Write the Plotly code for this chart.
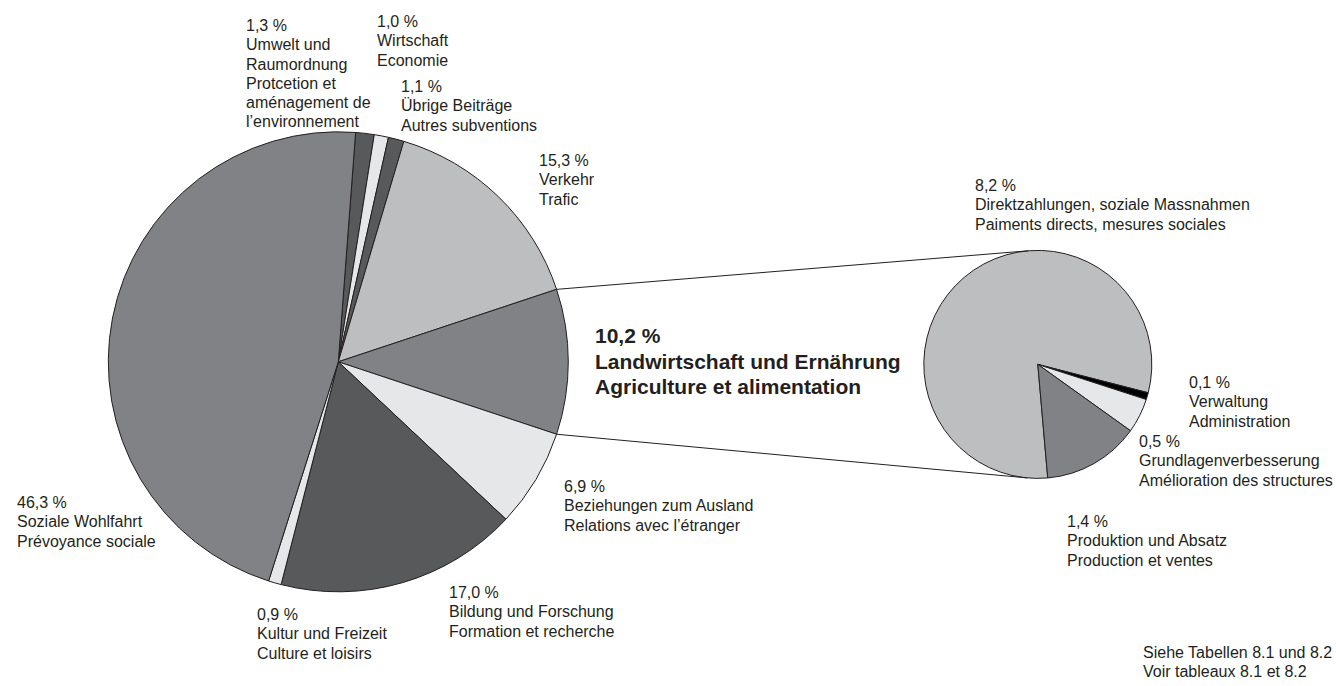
import math
import plotly.graph_objects as go

W, H = 1336, 686

# ---------------- data ----------------
main_de = [["Umwelt und", "Raumordnung"], ["Wirtschaft"], ["Übrige Beiträge"], ["Verkehr"],
           ["Landwirtschaft und Ernährung"], ["Beziehungen zum Ausland"],
           ["Bildung und Forschung"], ["Kultur und Freizeit"], ["Soziale Wohlfahrt"]]
main_fr = [["Protcetion et", "aménagement de", "l’environnement"], ["Economie"],
           ["Autres subventions"], ["Trafic"], ["Agriculture et alimentation"],
           ["Relations avec l’étranger"], ["Formation et recherche"],
           ["Culture et loisirs"], ["Prévoyance sociale"]]
main_values = [1.3, 1.0, 1.1, 15.3, 10.2, 6.9, 17.0, 0.9, 46.3]
main_colors = ["#58595b", "#e6e7e8", "#58595b", "#bcbec0", "#808285",
               "#e6e7e8", "#58595b", "#e6e7e8", "#808285"]
focus_index = 4

sub_de = ["Direktzahlungen, soziale Massnahmen", "Verwaltung",
          "Grundlagenverbesserung", "Produktion und Absatz"]
sub_fr = ["Paiments directs, mesures sociales", "Administration",
          "Amélioration des structures", "Production et ventes"]
sub_values = [8.2, 0.1, 0.5, 1.4]
sub_colors = ["#bcbec0", "#000000", "#e6e7e8", "#808285"]

note_lines = ["Siehe Tabellen 8.1 und 8.2", "Voir tableaux 8.1 et 8.2"]

# ---------------- layout geometry (pixels) ----------------
BIG_CX, BIG_CY, BIG_R = 338.3, 361.8, 230.0
SUB_CX, SUB_CY, SUB_R = 1037.8, 364.4, 114.0
SUB_ROTATION = 175

main_label_pos = [(244, 15), (374.5, 11), (399, 76), (537, 150), (593, 322),
                  (562, 476), (446.5, 582), (254.5, 604), (14.5, 492)]
sub_label_pos = [(973, 175), (1186.5, 372), (1137, 431), (1065, 511)]
note_pos = (1140.5, 642)

FS, LS = 16, 19.3          # regular font size / line step
FSB, LSB = 21, 25.5        # bold font size / line step

TEXT_COLOR = "#231f20"
FONT = "Liberation Sans, Arial, sans-serif"


def px_x(x):
    return x / W


def px_y(y):
    return 1 - y / H


def domain(cx, cy, r):
    return dict(x=[px_x(cx - r), px_x(cx + r)], y=[px_y(cy + r), px_y(cy - r)])


def fmt(v):
    return f"{v:.1f}".replace(".", ",") + " %"


annotations = []


def add_block(x, y, lines, size, step, bold=False):
    for i, line in enumerate(lines):
        annotations.append(dict(
            x=px_x(x), y=px_y(y + i * step), xref="paper", yref="paper",
            xanchor="left", yanchor="top", align="left", showarrow=False,
            text=f"<b>{line}</b>" if bold else line,
            font=dict(family=FONT, size=size, color=TEXT_COLOR)))


total = sum(main_values)
before = sum(main_values[:focus_index])
fv = main_values[focus_index]
big_rotation = 90 - 360 * (before + fv / 2) / total

fig = go.Figure()
fig.add_trace(go.Pie(
    values=main_values, labels=[" ".join(l) for l in main_de],
    marker=dict(colors=main_colors, line=dict(color=TEXT_COLOR, width=1)),
    sort=False, direction="clockwise", rotation=big_rotation,
    textinfo="none", hoverinfo="label+value", showlegend=False,
    domain=domain(BIG_CX, BIG_CY, BIG_R),
))
fig.add_trace(go.Pie(
    values=sub_values, labels=sub_de,
    marker=dict(colors=sub_colors, line=dict(color=TEXT_COLOR, width=1)),
    sort=False, direction="clockwise", rotation=SUB_ROTATION,
    textinfo="none", hoverinfo="label+value", showlegend=False,
    domain=domain(SUB_CX, SUB_CY, SUB_R),
))

for i, (v, de, fr) in enumerate(zip(main_values, main_de, main_fr)):
    x, y = main_label_pos[i]
    lines = [fmt(v)] + de + fr
    if i == focus_index:
        add_block(x, y, lines, FSB, LSB, bold=True)
    else:
        add_block(x, y, lines, FS, LS)
for i, (v, de, fr) in enumerate(zip(sub_values, sub_de, sub_fr)):
    x, y = sub_label_pos[i]
    add_block(x, y, [fmt(v), de, fr], FS, LS)
add_block(note_pos[0], note_pos[1], note_lines, FS, LS)

# connector lines from the exploded slice to tangents of the detail pie
a1 = math.radians(big_rotation + 360 * before / total)
a2 = math.radians(big_rotation + 360 * (before + fv) / total)
pts = [(BIG_CX + BIG_R * math.sin(a), BIG_CY - BIG_R * math.cos(a)) for a in (a1, a2)]


def tangent(p, upper):
    dx, dy = p[0] - SUB_CX, p[1] - SUB_CY
    d = math.hypot(dx, dy)
    th = math.atan2(dy, dx)
    al = math.acos(SUB_R / d)
    cands = [(SUB_CX + SUB_R * math.cos(th + s * al), SUB_CY + SUB_R * math.sin(th + s * al))
             for s in (1, -1)]
    cands.sort(key=lambda q: q[1])
    return cands[0] if upper else cands[1]


shapes = []
for p, upper in zip(pts, (True, False)):
    t = tangent(p, upper)
    shapes.append(dict(type="line", xref="paper", yref="paper",
                       x0=px_x(p[0]), y0=px_y(p[1]), x1=px_x(t[0]), y1=px_y(t[1]),
                       line=dict(color=TEXT_COLOR, width=1)))

fig.update_layout(
    width=W, height=H, margin=dict(l=0, r=0, t=0, b=0),
    paper_bgcolor="white", plot_bgcolor="white",
    annotations=annotations, shapes=shapes,
    font=dict(family=FONT, color=TEXT_COLOR),
)

fig.write_html("out.html", config={"displayModeBar": False},
               post_script="document.body.style.margin='0';document.body.style.overflow='hidden';")
